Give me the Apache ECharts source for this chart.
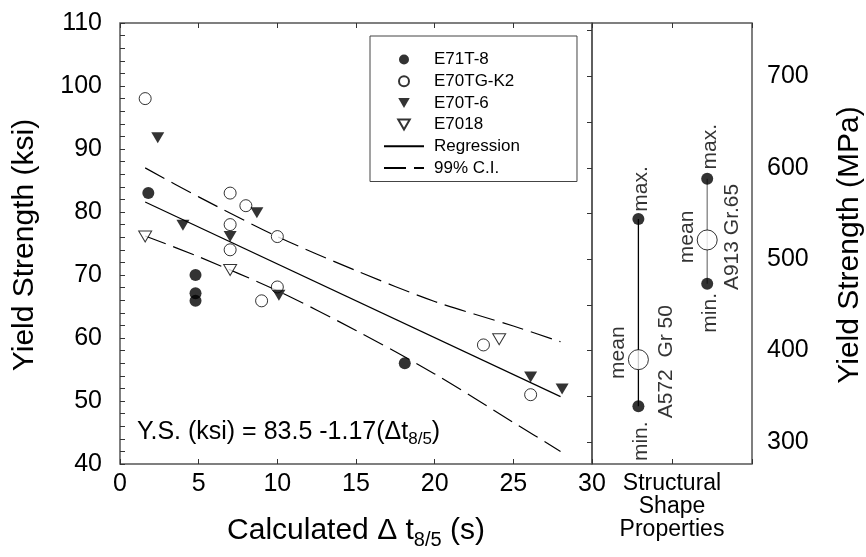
<!DOCTYPE html>
<html>
<head>
<meta charset="utf-8">
<script src="https://cdn.jsdelivr.net/npm/echarts@6/dist/echarts.min.js"></script>
<style>
  html, body { margin: 0; padding: 0; background: #fff; }
  #chart { width: 866px; height: 557px; }
</style>
</head>
<body>
<div id="chart"></div>
<script>
// Weld metal yield strength versus cooling time, [dt8/5 (s), YS (ksi)]
const e71t8 = [[1.8, 83.0], [4.8, 70.0], [4.8, 67.1], [4.8, 65.9], [18.1, 56.0]];
const e70tgk2 = [[1.6, 98.0], [7.0, 83.0], [8.0, 81.0], [7.0, 78.0], [7.0, 74.0],
                 [10.0, 76.1], [10.0, 68.1], [9.0, 65.9], [23.1, 58.9], [26.1, 51.0]];
const e70t6 = [[2.4, 91.8], [4.0, 77.9], [7.0, 76.1], [8.7, 79.9], [10.1, 66.8],
               [26.1, 53.8], [28.1, 51.9]];
const e7018 = [[1.6, 76.1], [7.0, 70.8], [24.1, 59.8]];

// Regression line and 99% confidence band
const regX = [1.6, 28];
const regY = [81.6, 50.7];
const ciX = [1.6, 5, 10, 15, 20, 25, 28];
const ciUpper = [87.0, 82.4, 76.1, 70.7, 65.8, 61.9, 59.4];
const ciLower = [76.2, 72.9, 67.5, 61.2, 54.3, 46.6, 42.0];

// Structural shape properties (MPa)
const shapeNames = ['A572  Gr 50', 'A913 Gr.65'];
const shapePos = [0.29, 0.72];
const shapeMin = [339, 473];
const shapeMean = [390, 521];
const shapeMax = [544, 588];

// Axis tick values
const ksiMin = 40, ksiMax = 110, ksiStep = 10;
const xMin = 0, xMax = 30, xStep = 5;
const mpaLabels = [300, 400, 500, 600, 700];
const mpaTicks = [300, 350, 400, 450, 500, 550, 600, 650, 700, 750];
const KSI_TO_MPA = 6.895;

const FONT = 'Liberation Sans, Arial, Helvetica, sans-serif';
const TRI_DOWN = 'path://M0,0 L12,0 L6,10.4 Z';
const FRAME = '#555';

const pairs = (xs, ys) => xs.map((x, i) => [x, ys[i]]);

const chart = echarts.init(document.getElementById('chart'), null, { renderer: 'canvas' });

const tickStyle = { show: true, inside: true, length: 5, lineStyle: { color: '#333', width: 1 } };

// Rotated labels take their offset in the text's own frame: [along text (up), across text (right)]
const screenOffset = (dx, dy) => [-dy, dx];

function shapeSeries(i, lineColor, off) {
  const x = shapePos[i];
  const lbl = { show: true, position: 'inside', rotate: 90, fontSize: 21, fontFamily: FONT,
                color: '#000', align: 'center', verticalAlign: 'middle' };
  return [
    { type: 'line', xAxisIndex: 2, yAxisIndex: 1, silent: true, symbol: 'none', z: 2,
      data: [[x, shapeMin[i]], [x, shapeMax[i]]],
      lineStyle: { color: lineColor, width: 1.3 } },
    { type: 'scatter', xAxisIndex: 2, yAxisIndex: 1, silent: true, symbol: 'circle', symbolSize: 12, z: 3,
      itemStyle: { color: '#000' }, label: lbl,
      data: [
        { value: [x, shapeMin[i]], label: { formatter: 'min.', offset: screenOffset(off.min[0], off.min[1]) } },
        { value: [x, shapeMax[i]], label: { formatter: 'max.', offset: screenOffset(off.max[0], off.max[1]) } }
      ] },
    { type: 'scatter', xAxisIndex: 2, yAxisIndex: 1, silent: true, symbol: 'circle', symbolSize: 20, z: 3,
      itemStyle: { color: '#fff', borderColor: '#000', borderWidth: 1 }, label: lbl,
      data: [{ value: [x, shapeMean[i]], label: { formatter: 'mean', offset: screenOffset(off.mean[0], off.mean[1]) } }] },
    { type: 'scatter', xAxisIndex: 2, yAxisIndex: 1, silent: true, symbol: 'circle', symbolSize: 1, z: 3,
      itemStyle: { color: 'rgba(0,0,0,0)' }, label: lbl,
      data: [{ value: [x, shapeMean[i]], label: { formatter: shapeNames[i], offset: screenOffset(off.name[0], off.name[1]) } }] }
  ];
}

const option = {
  backgroundColor: '#fff',
  animation: false,
  textStyle: { fontFamily: FONT, color: '#000' },
  grid: [
    { left: 120, top: 23, width: 472, height: 441, show: true, borderColor: FRAME, borderWidth: 1.5, backgroundColor: 'transparent' },
    { left: 592, top: 23, width: 160, height: 441, show: true, borderColor: FRAME, borderWidth: 1.5, backgroundColor: 'transparent' }
  ],
  xAxis: [
    { type: 'value', gridIndex: 0, position: 'bottom', min: xMin, max: xMax, interval: xStep,
      axisLine: { show: false }, axisTick: tickStyle, splitLine: { show: false },
      axisLabel: { fontSize: 25, color: '#000', margin: 8, fontFamily: FONT },
      name: 'Calculated Δ t{sub|8/5} (s)', nameLocation: 'middle', nameGap: 48,
      nameTextStyle: { fontSize: 30, color: '#000', fontFamily: FONT, lineHeight: 38,
        rich: { sub: { fontSize: 20, fontFamily: FONT, verticalAlign: 'bottom', lineHeight: 20 } } } },
    { type: 'value', gridIndex: 0, position: 'top', min: xMin, max: xMax, interval: xStep,
      axisLine: { show: false }, axisTick: tickStyle, axisLabel: { show: false }, splitLine: { show: false } },
    { type: 'value', gridIndex: 1, position: 'bottom', min: 0, max: 1, interval: 0.5,
      axisLine: { show: false }, axisTick: tickStyle, axisLabel: { show: false }, splitLine: { show: false },
      name: 'Structural\nShape\nProperties', nameLocation: 'middle', nameGap: 8,
      nameTextStyle: { fontSize: 23, lineHeight: 23, color: '#000', fontFamily: FONT, verticalAlign: 'top' } },
    { type: 'value', gridIndex: 1, position: 'top', min: 0, max: 1, interval: 0.5,
      axisLine: { show: false }, axisTick: tickStyle, axisLabel: { show: false }, splitLine: { show: false } }
  ],
  yAxis: [
    { type: 'value', gridIndex: 0, position: 'left', min: ksiMin, max: ksiMax, interval: ksiStep,
      axisLine: { show: false }, axisTick: tickStyle, splitLine: { show: false },
      minorTick: { show: true, splitNumber: 5, length: 5, lineStyle: { color: '#333', width: 1 } },
      axisLabel: { fontSize: 25, color: '#000', margin: 18, fontFamily: FONT } },
    { type: 'value', gridIndex: 1, position: 'right', min: ksiMin * KSI_TO_MPA, max: ksiMax * KSI_TO_MPA,
      axisLine: { show: false }, splitLine: { show: false },
      axisTick: Object.assign({}, tickStyle, { customValues: mpaTicks }),
      axisLabel: { fontSize: 25, color: '#000', margin: 15, fontFamily: FONT, customValues: mpaLabels } }
  ],
  legend: {
    left: 370, top: 36, orient: 'vertical',
    padding: [15, 57, 5, 13],
    itemWidth: 40, itemHeight: 10, itemGap: 4.7,
    backgroundColor: '#fff', borderColor: '#444', borderWidth: 1, borderRadius: 0,
    textStyle: { fontSize: 17, color: '#000', fontFamily: FONT, padding: [0, 0, 0, 5] },
    data: ['E71T-8', 'E70TG-K2', 'E70T-6', 'E7018',
           { name: 'Regression', itemStyle: { opacity: 0 } },
           { name: '99% C.I.', itemStyle: { opacity: 0 } }],
    selectedMode: false
  },
  graphic: [
    { type: 'text', x: 25, y: 245, rotation: Math.PI / 2, silent: true,
      style: { text: 'Yield Strength (ksi)', fontSize: 30, fontFamily: FONT, fill: '#000', align: 'center', verticalAlign: 'middle' } },
    { type: 'text', x: 850, y: 245, rotation: Math.PI / 2, silent: true,
      style: { text: 'Yield Strength (MPa)', fontSize: 30, fontFamily: FONT, fill: '#000', align: 'center', verticalAlign: 'middle' } },
    { type: 'text', x: 137, y: 432, silent: true, z: 10,
      style: { text: 'Y.S. (ksi) = 83.5 -1.17(Δt{sub|8/5})', fontSize: 25, fontFamily: FONT, fill: '#000',
        align: 'left', verticalAlign: 'middle', lineHeight: 32,
        rich: { sub: { fontSize: 17, fontFamily: FONT, fill: '#000', verticalAlign: 'bottom', lineHeight: 17 } } } }
  ],
  series: [
    { name: 'Regression', type: 'line', xAxisIndex: 0, yAxisIndex: 0, symbol: 'none', silent: true,
      data: pairs(regX, regY), lineStyle: { color: '#000', width: 1.2 }, itemStyle: { color: '#000' }, z: 2 },
    { name: '99% C.I.', type: 'line', xAxisIndex: 0, yAxisIndex: 0, symbol: 'none', silent: true, smooth: 0.3,
      data: pairs(ciX, ciUpper), lineStyle: { color: '#000', width: 1.2, type: [22, 8] }, itemStyle: { color: '#000' }, z: 2 },
    { name: '99% C.I.', type: 'line', xAxisIndex: 0, yAxisIndex: 0, symbol: 'none', silent: true, smooth: 0.3,
      data: pairs(ciX, ciLower), lineStyle: { color: '#000', width: 1.2, type: [22, 8] }, itemStyle: { color: '#000' }, z: 2 },
    { name: 'E71T-8', type: 'scatter', xAxisIndex: 0, yAxisIndex: 0, symbol: 'circle', symbolSize: 12,
      data: e71t8, itemStyle: { color: '#000' }, z: 3 },
    { name: 'E70TG-K2', type: 'scatter', xAxisIndex: 0, yAxisIndex: 0, symbol: 'circle', symbolSize: 12,
      data: e70tgk2, itemStyle: { color: '#fff', borderColor: '#000', borderWidth: 1 }, z: 3 },
    { name: 'E70T-6', type: 'scatter', xAxisIndex: 0, yAxisIndex: 0, symbol: TRI_DOWN, symbolSize: [13, 11],
      data: e70t6, itemStyle: { color: '#000' }, z: 4 },
    { name: 'E7018', type: 'scatter', xAxisIndex: 0, yAxisIndex: 0, symbol: TRI_DOWN, symbolSize: [13, 11],
      data: e7018, itemStyle: { color: '#fff', borderColor: '#000', borderWidth: 1 }, z: 4 }
  ]
    .concat(shapeSeries(0, '#000', { min: [3, 35], max: [3, -30], mean: [-20, -7], name: [28, 2] }))
    .concat(shapeSeries(1, '#808080', { min: [3, 29], max: [3, -32], mean: [-20, -3], name: [25, -3] }))
};

chart.setOption(option);
</script>
</body>
</html>
